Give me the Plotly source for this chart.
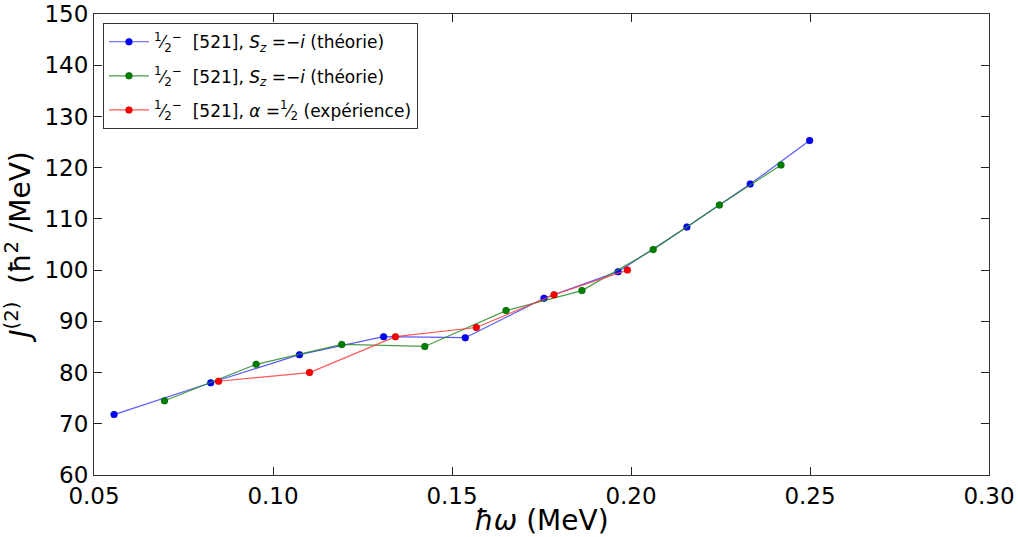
import plotly.graph_objects as go

# Data
blue_x = [0.0556, 0.0826, 0.1074, 0.1309, 0.1537, 0.1757, 0.1964, 0.2156, 0.2333, 0.2499]
blue_y = [71.8, 78.0, 83.5, 87.0, 86.8, 94.5, 99.7, 108.4, 116.8, 125.3]

green_x = [0.0697, 0.0953, 0.1192, 0.1424, 0.1651, 0.1863, 0.2062, 0.2247, 0.2419]
green_y = [74.5, 81.6, 85.5, 85.1, 92.1, 96.0, 104.0, 112.7, 120.5]

red_x = [0.0848, 0.1102, 0.1342, 0.1568, 0.1785, 0.1990]
red_y = [78.3, 80.0, 87.0, 88.8, 95.2, 100.0]

x_ticks = [0.05, 0.10, 0.15, 0.20, 0.25, 0.30]
x_tick_labels = ["0.05", "0.10", "0.15", "0.20", "0.25", "0.30"]
y_ticks = [60, 70, 80, 90, 100, 110, 120, 130, 140, 150]

frac = "<sup>1</sup>⁄<sub>2</sub><sup>−</sup>"
names = [
    frac + "  [521], <i>S<sub>z</sub></i> =−<i>i</i> (théorie)",
    frac + "  [521], <i>S<sub>z</sub></i> =−<i>i</i> (théorie)",
    frac + "  [521], <i>α</i> =<sup>1</sup>⁄<sub>2</sub> (expérience)",
]
colors = ["#0000ff", "#007f00", "#ff0000"]
line_colors = ["rgba(60,60,255,0.85)", "rgba(40,140,40,0.85)", "rgba(255,60,60,0.85)"]

fig = go.Figure()
for i, (xs, ys, name, c, lc) in enumerate(zip([blue_x, green_x, red_x], [blue_y, green_y, red_y],
                                              names, colors, line_colors)):
    fig.add_trace(go.Scatter(
        x=xs, y=ys, mode="lines+markers", name=name, legendgroup=f"g{i}",
        line=dict(color=lc, width=1.2),
        marker=dict(color=c, size=7, line=dict(color="rgba(0,0,0,0.35)", width=0.5)),
    ))

axis_common = dict(
    showline=True, linecolor="#333333", linewidth=1.2, mirror="allticks",
    ticks="inside", ticklen=8, tickwidth=1.2, tickcolor="#222222",
    showgrid=False, zeroline=False, automargin=False, ticklabeloverflow="allow",
    tickfont=dict(family="DejaVu Sans", size=23, color="black"),
)

fig.update_layout(
    width=1018, height=537,
    margin=dict(l=94, r=29, t=14, b=62),
    paper_bgcolor="white", plot_bgcolor="white",
    font=dict(family="DejaVu Sans", color="black"),
    xaxis=dict(range=[0.05, 0.30], tickvals=x_ticks, ticktext=x_tick_labels,
               title=dict(text="<i>ħω</i> (MeV)", font=dict(size=28), standoff=2),
               **axis_common),
    yaxis=dict(range=[60, 150], tickvals=y_ticks,
               title=dict(text="<i>J</i><sup>(2)</sup>  (ħ<sup>2</sup> /MeV)", font=dict(size=28), standoff=8),
               **axis_common),
    legend=dict(
        x=0.01, y=0.98, xanchor="left", yanchor="top",
        bgcolor="white", bordercolor="#333333", borderwidth=1,
        font=dict(family="DejaVu Sans", size=17, color="black"),
        itemwidth=40, tracegroupgap=9,
    ),
    showlegend=True,
)

fig.write_html(
    "out.html",
    config={"displayModeBar": False},
    post_script="document.body.style.margin='0';document.body.style.overflow='hidden';",
)
